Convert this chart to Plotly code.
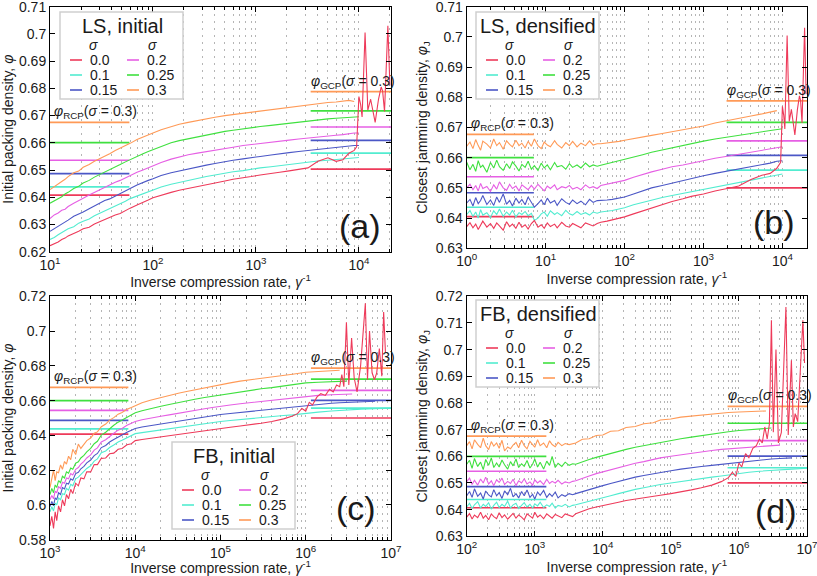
import math
import plotly.graph_objects as go

W, H = 817, 576
FONT = "Liberation Sans, Arial, sans-serif"

sigma_labels = ["0.0", "0.1", "0.15", "0.2", "0.25", "0.3"]
colors = ["#ee3a5a", "#52ecd0", "#4b57c6", "#e65fe4", "#3fe03f", "#ff9a57"]

# ---------- (a) LS, initial ----------
xa = [10, 11, 12, 13, 14, 15, 17, 19, 21, 24, 27, 30, 34, 38, 43, 48, 54, 60, 70, 80,
      90, 100, 120, 150, 180, 220, 270, 330, 400, 500, 600, 750, 900, 1100, 1400, 1700,
      2100, 2600, 3200, 4000, 5000, 6000, 7000, 8000, 9000, 10000]
a_s00 = [0.6222, 0.6228, 0.6236, 0.6245, 0.6250, 0.6258, 0.6266, 0.6275, 0.6284, 0.6290,
         0.6302, 0.6310, 0.6318, 0.6325, 0.6335, 0.6340, 0.6352, 0.6360, 0.6372, 0.6380,
         0.6390, 0.6398, 0.6408, 0.6418, 0.6426, 0.6433, 0.6440, 0.6448, 0.6454, 0.6460,
         0.6466, 0.6470, 0.6476, 0.6482, 0.6486, 0.6492, 0.6497, 0.6502, 0.6508, 0.6532,
         0.6545, 0.6532, 0.6538, 0.6562, 0.6572]
a_s10 = [0.6245, 0.6252, 0.6262, 0.6270, 0.6276, 0.6284, 0.6292, 0.6305, 0.6312, 0.6320,
         0.6332, 0.6340, 0.6350, 0.6356, 0.6368, 0.6374, 0.6385, 0.6395, 0.6405, 0.6414,
         0.6422, 0.6428, 0.6438, 0.6448, 0.6455, 0.6462, 0.6470, 0.6476, 0.6482, 0.6490,
         0.6494, 0.6498, 0.6504, 0.6508, 0.6512, 0.6516, 0.6520, 0.6524, 0.6530, 0.6533,
         0.6536, 0.6538, 0.6540, 0.6542, 0.6544, 0.6546]
a_s15 = [0.6275, 0.6284, 0.6294, 0.6300, 0.6310, 0.6316, 0.6330, 0.6338, 0.6346, 0.6358,
         0.6368, 0.6376, 0.6388, 0.6394, 0.6405, 0.6414, 0.6424, 0.6432, 0.6445, 0.6455,
         0.6462, 0.6468, 0.6480, 0.6490, 0.6497, 0.6505, 0.6512, 0.6518, 0.6524, 0.6532,
         0.6536, 0.6541, 0.6546, 0.6550, 0.6555, 0.6560, 0.6564, 0.6568, 0.6572, 0.6576,
         0.6580, 0.6582, 0.6585, 0.6588, 0.6590, 0.6590]
a_s20 = [0.6322, 0.6335, 0.6342, 0.6352, 0.6356, 0.6366, 0.6378, 0.6386, 0.6396, 0.6408,
         0.6418, 0.6425, 0.6436, 0.6444, 0.6455, 0.6462, 0.6472, 0.6480, 0.6492, 0.6500,
         0.6508, 0.6515, 0.6528, 0.6540, 0.6548, 0.6556, 0.6562, 0.6568, 0.6574, 0.6580,
         0.6584, 0.6590, 0.6594, 0.6598, 0.6602, 0.6606, 0.6610, 0.6614, 0.6618, 0.6622,
         0.6626, 0.6628, 0.6630, 0.6634, 0.6636, 0.6636]
a_s25 = [0.6378, 0.6386, 0.6396, 0.6402, 0.6412, 0.6418, 0.6432, 0.6440, 0.6452, 0.6462,
         0.6474, 0.6482, 0.6494, 0.6502, 0.6512, 0.6520, 0.6530, 0.6538, 0.6552, 0.6560,
         0.6568, 0.6575, 0.6588, 0.6600, 0.6608, 0.6615, 0.6622, 0.6630, 0.6636, 0.6642,
         0.6646, 0.6652, 0.6656, 0.6660, 0.6664, 0.6668, 0.6672, 0.6676, 0.6680, 0.6685,
         0.6688, 0.6690, 0.6692, 0.6694, 0.6695, 0.6696]
a_s30 = [0.6428, 0.6440, 0.6448, 0.6458, 0.6466, 0.6476, 0.6490, 0.6496, 0.6510, 0.6520,
         0.6532, 0.6540, 0.6552, 0.6560, 0.6572, 0.6580, 0.6590, 0.6598, 0.6612, 0.6620,
         0.6628, 0.6636, 0.6648, 0.6660, 0.6668, 0.6675, 0.6682, 0.6688, 0.6694, 0.6700,
         0.6704, 0.6708, 0.6712, 0.6716, 0.6722, 0.6726, 0.6730, 0.6735, 0.6740, 0.6745,
         0.6748, 0.6750, 0.6754, 0.6756, 0.6752]
a_rcp = [0.6408, 0.6438, 0.6487, 0.6536, 0.6601, 0.6675]
a_gcp = [0.6503, 0.6562, 0.6609, 0.6658, 0.6717, 0.6788]

# sigma = 0 tail (crystallised runs), LS panels
ls_tail_x = [9500, 9800, 10000, 10400, 10740, 11480, 12210, 13000, 14390, 15500,
             16450, 17000, 17740, 19110, 20000]
ls_tail_s00 = [0.6585, 0.6700, 0.6770, 0.6740, 0.6695, 0.7005, 0.6720, 0.6760, 0.6675, 0.6760,
               0.6805, 0.6790, 0.6715, 0.7030, 0.6810]

# ---------- (b) LS, densified ----------
xb = [1, 1.1, 1.2, 1.3, 1.4, 1.5, 1.6, 1.8, 2.0, 2.2, 2.4, 2.6, 2.9, 3.2, 3.5, 3.8, 4.2, 4.6,
      5.0, 5.5, 6.0, 6.6, 7.2, 8.0, 8.8, 9.6, 10.5, 11.5, 13, 14, 16, 18, 20, 22, 25, 28, 32,
      36, 40, 45, 50, 60, 70, 85, 100, 130, 170, 220, 300, 400, 550, 700, 1000, 1400, 2000,
      2800, 4000, 5500, 7000, 8500, 10000]
b_s00 = [0.6372, 0.6385, 0.6368, 0.6380, 0.6362, 0.6378, 0.6390, 0.6370, 0.6382, 0.6366,
         0.6384, 0.6374, 0.6360, 0.6388, 0.6372, 0.6380, 0.6366, 0.6386, 0.6370, 0.6378,
         0.6364, 0.6382, 0.6392, 0.6370, 0.6378, 0.6366, 0.6384, 0.6372, 0.6380, 0.6368,
         0.6386, 0.6374, 0.6370, 0.6382, 0.6376, 0.6368, 0.6384, 0.6378, 0.6374, 0.6382,
         0.6386, 0.6390, 0.6394, 0.6398, 0.6404, 0.6414, 0.6424, 0.6434, 0.6444, 0.6455,
         0.6464, 0.6472, 0.6480, 0.6490, 0.6498, 0.6506, 0.6528, 0.6542, 0.6548, 0.6565]
b_s10 = [0.6412, 0.6425, 0.6405, 0.6420, 0.6400, 0.6428, 0.6410, 0.6418, 0.6402, 0.6424,
         0.6412, 0.6430, 0.6406, 0.6420, 0.6410, 0.6426, 0.6404, 0.6418, 0.6412, 0.6422,
         0.6408, 0.6416, 0.6392, 0.6400, 0.6414, 0.6420, 0.6406, 0.6424, 0.6412, 0.6418,
         0.6408, 0.6426, 0.6414, 0.6410, 0.6422, 0.6412, 0.6418, 0.6410, 0.6420, 0.6416,
         0.6420, 0.6422, 0.6425, 0.6430, 0.6434, 0.6444, 0.6452, 0.6460, 0.6468, 0.6475,
         0.6482, 0.6488, 0.6496, 0.6505, 0.6512, 0.6520, 0.6528, 0.6535, 0.6540, 0.6544,
         0.6546]
b_s15 = [0.6450, 0.6462, 0.6440, 0.6468, 0.6448, 0.6458, 0.6475, 0.6445, 0.6460, 0.6442,
         0.6470, 0.6452, 0.6480, 0.6446, 0.6458, 0.6440, 0.6466, 0.6450, 0.6462, 0.6444,
         0.6470, 0.6452, 0.6436, 0.6448, 0.6460, 0.6444, 0.6466, 0.6450, 0.6458, 0.6442,
         0.6464, 0.6452, 0.6446, 0.6460, 0.6448, 0.6456, 0.6444, 0.6462, 0.6452, 0.6458,
         0.6458, 0.6460, 0.6462, 0.6466, 0.6470, 0.6480, 0.6490, 0.6500, 0.6508, 0.6516,
         0.6524, 0.6530, 0.6540, 0.6548, 0.6555, 0.6562, 0.6570, 0.6576, 0.6582, 0.6588,
         0.6590]
b_s20 = [0.6500, 0.6512, 0.6494, 0.6508, 0.6490, 0.6515, 0.6498, 0.6505, 0.6488, 0.6510,
         0.6496, 0.6520, 0.6500, 0.6492, 0.6512, 0.6498, 0.6506, 0.6490, 0.6510, 0.6500,
         0.6494, 0.6508, 0.6496, 0.6512, 0.6500, 0.6490, 0.6506, 0.6498, 0.6510, 0.6494,
         0.6504, 0.6500, 0.6508, 0.6496, 0.6502, 0.6494, 0.6510, 0.6500, 0.6504, 0.6498,
         0.6508, 0.6512, 0.6516, 0.6520, 0.6525, 0.6535, 0.6545, 0.6553, 0.6562, 0.6570,
         0.6576, 0.6582, 0.6590, 0.6598, 0.6605, 0.6612, 0.6618, 0.6624, 0.6630, 0.6634,
         0.6636]
b_s25 = [0.6585, 0.6560, 0.6578, 0.6555, 0.6590, 0.6568, 0.6575, 0.6552, 0.6584, 0.6566,
         0.6592, 0.6570, 0.6558, 0.6580, 0.6564, 0.6586, 0.6572, 0.6556, 0.6578, 0.6568,
         0.6588, 0.6562, 0.6574, 0.6558, 0.6582, 0.6566, 0.6576, 0.6560, 0.6584, 0.6570,
         0.6574, 0.6562, 0.6580, 0.6568, 0.6576, 0.6566, 0.6582, 0.6570, 0.6576, 0.6572,
         0.6575, 0.6580, 0.6584, 0.6590, 0.6595, 0.6602, 0.6610, 0.6618, 0.6626, 0.6633,
         0.6640, 0.6646, 0.6655, 0.6662, 0.6668, 0.6674, 0.6680, 0.6686, 0.6690, 0.6694,
         0.6696]
b_s30 = [0.6638, 0.6652, 0.6630, 0.6660, 0.6640, 0.6625, 0.6655, 0.6645, 0.6632, 0.6662,
         0.6640, 0.6650, 0.6628, 0.6656, 0.6644, 0.6636, 0.6658, 0.6640, 0.6648, 0.6632,
         0.6654, 0.6638, 0.6662, 0.6640, 0.6630, 0.6652, 0.6642, 0.6636, 0.6656, 0.6644,
         0.6632, 0.6650, 0.6640, 0.6654, 0.6636, 0.6648, 0.6640, 0.6656, 0.6642, 0.6646,
         0.6646, 0.6648, 0.6650, 0.6654, 0.6658, 0.6664, 0.6668, 0.6674, 0.6680, 0.6686,
         0.6692, 0.6698, 0.6705, 0.6715, 0.6722, 0.6730, 0.6738, 0.6745, 0.6752, 0.6756]
b_rcp = [0.6405, 0.6436, 0.6484, 0.6537, 0.6600, 0.6677]
b_gcp = [0.6500, 0.6559, 0.6608, 0.6656, 0.6717, 0.6788]

# ---------- (c) FB, initial ----------
xc = [1000, 1050, 1100, 1150, 1200, 1260, 1330, 1400, 1480, 1560, 1650, 1750, 1850, 2000,
      2150, 2300, 2500, 2700, 3000, 3300, 3600, 4000, 4500, 5000, 5600, 6300, 7000, 8000,
      9000, 10000, 12000, 15000, 20000, 25000, 32000, 40000, 50000, 65000, 80000, 100000,
      130000, 170000, 220000, 300000, 400000, 550000, 700000, 1000000, 1400000, 2000000,
      2500000, 3000000, 3500000, 4500000, 6500000, 10000000]
c_s00 = [0.5880, 0.5935, 0.5865, 0.5960, 0.5910, 0.5995, 0.5960, 0.6030, 0.5995, 0.6060,
         0.6035, 0.6090, 0.6065, 0.6125, 0.6110, 0.6155, 0.6150, 0.6190, 0.6190, 0.6232,
         0.6232, 0.6268, 0.6270, 0.6294, 0.6298, 0.6320, 0.6325, 0.6346, 0.6352, 0.6370,
         0.6376, 0.6383, 0.6390, 0.6398, 0.6405, 0.6412, 0.6418, 0.6426, 0.6433, 0.6440,
         0.6447, 0.6454, 0.6460, 0.6470, 0.6480, 0.6495, 0.6512]
c_s10 = [0.5960, 0.5990, 0.5965, 0.6010, 0.6000, 0.6040, 0.6030, 0.6065, 0.6060, 0.6095,
         0.6085, 0.6118, 0.6110, 0.6150, 0.6160, 0.6175, 0.6190, 0.6210, 0.6225, 0.6252,
         0.6265, 0.6300, 0.6310, 0.6330, 0.6345, 0.6362, 0.6372, 0.6388, 0.6398, 0.6410,
         0.6416, 0.6423, 0.6432, 0.6438, 0.6446, 0.6452, 0.6459, 0.6466, 0.6473, 0.6480,
         0.6486, 0.6492, 0.6497, 0.6503, 0.6508, 0.6514, 0.6518, 0.6527, 0.6534, 0.6540,
         0.6544, 0.6546, 0.6548, 0.6551, 0.6554, 0.6557]
c_s15 = [0.5990, 0.6020, 0.5995, 0.6040, 0.6030, 0.6070, 0.6060, 0.6100, 0.6092, 0.6125,
         0.6120, 0.6150, 0.6142, 0.6180, 0.6188, 0.6208, 0.6222, 0.6242, 0.6258, 0.6284,
         0.6296, 0.6330, 0.6342, 0.6362, 0.6376, 0.6392, 0.6402, 0.6418, 0.6428, 0.6440,
         0.6448, 0.6456, 0.6466, 0.6474, 0.6483, 0.6490, 0.6497, 0.6505, 0.6512, 0.6520,
         0.6526, 0.6532, 0.6538, 0.6545, 0.6551, 0.6558, 0.6563, 0.6573, 0.6580, 0.6585,
         0.6588, 0.6590, 0.6592, 0.6594, 0.6596]
c_s20 = [0.6030, 0.6055, 0.6035, 0.6080, 0.6070, 0.6105, 0.6095, 0.6130, 0.6125, 0.6155,
         0.6150, 0.6180, 0.6172, 0.6205, 0.6215, 0.6235, 0.6250, 0.6270, 0.6288, 0.6315,
         0.6328, 0.6362, 0.6375, 0.6395, 0.6412, 0.6430, 0.6440, 0.6458, 0.6468, 0.6480,
         0.6490, 0.6500, 0.6510, 0.6518, 0.6528, 0.6536, 0.6544, 0.6553, 0.6560, 0.6568,
         0.6575, 0.6582, 0.6588, 0.6596, 0.6602, 0.6609, 0.6614, 0.6625, 0.6630, 0.6634,
         0.6636, 0.6637, 0.6638]
c_s25 = [0.6060, 0.6095, 0.6070, 0.6115, 0.6100, 0.6140, 0.6128, 0.6165, 0.6155, 0.6190,
         0.6182, 0.6212, 0.6205, 0.6240, 0.6248, 0.6270, 0.6285, 0.6305, 0.6325, 0.6352,
         0.6366, 0.6402, 0.6418, 0.6440, 0.6458, 0.6476, 0.6488, 0.6505, 0.6516, 0.6530,
         0.6542, 0.6555, 0.6568, 0.6578, 0.6590, 0.6598, 0.6608, 0.6618, 0.6625, 0.6635,
         0.6643, 0.6652, 0.6660, 0.6668, 0.6675, 0.6684, 0.6690, 0.6702, 0.6706, 0.6709,
         0.6711, 0.6712]
c_s30 = [0.6100, 0.6150, 0.6200, 0.6140, 0.6190, 0.6185, 0.6230, 0.6205, 0.6250, 0.6235,
         0.6280, 0.6260, 0.6320, 0.6290, 0.6350, 0.6325, 0.6348, 0.6370, 0.6385, 0.6412,
         0.6420, 0.6450, 0.6465, 0.6488, 0.6502, 0.6522, 0.6532, 0.6550, 0.6560, 0.6572,
         0.6588, 0.6602, 0.6618, 0.6630, 0.6642, 0.6652, 0.6662, 0.6672, 0.6680, 0.6690,
         0.6702, 0.6712, 0.6720, 0.6730, 0.6738, 0.6746, 0.6752, 0.6763, 0.6768, 0.6772,
         0.6775]
c_tail_x = [800000, 900000, 1000000, 1100000, 1200000, 1350000, 1500000, 1700000, 1900000,
            2100000, 2300000, 2500000, 2650000, 2800000, 3000000, 3200000, 3450000, 3700000,
            4000000, 4400000, 5000000, 5300000, 5600000, 6000000, 6400000, 6800000, 7300000,
            7800000, 8200000, 8600000]
c_tail_s00 = [0.6525, 0.6555, 0.6540, 0.6590, 0.6575, 0.6620, 0.6640, 0.6630, 0.6665, 0.6650,
              0.6690, 0.6680, 0.6750, 0.6680, 0.7050, 0.6690, 0.6960, 0.6730, 0.6650, 0.6800,
              0.7160, 0.6720, 0.7000, 0.6760, 0.6720, 0.6760, 0.6900, 0.6740, 0.7110, 0.6880]
c_rcp = [0.6407, 0.6438, 0.6486, 0.6544, 0.6600, 0.6676]
c_gcp = [0.6500, 0.6557, 0.6601, 0.6659, 0.6724, 0.6787]

# ---------- (d) FB, densified ----------
xd = [100, 110, 120, 130, 145, 160, 175, 190, 210, 230, 250, 275, 300, 330, 360, 400, 440,
      480, 530, 580, 640, 700, 770, 850, 930, 1000, 1100, 1200, 1350, 1500, 1650, 1800, 2000,
      2200, 2500, 2800, 3200, 3600, 4000, 5000, 6300, 8000, 10000, 13000, 17000, 22000,
      30000, 40000, 55000, 70000, 100000, 140000, 200000, 280000, 400000, 550000, 700000,
      1000000, 1400000, 2000000, 2500000, 3000000, 4000000, 6000000, 10000000]
d_s00 = [0.6372, 0.6385, 0.6365, 0.6380, 0.6370, 0.6390, 0.6368, 0.6378, 0.6362, 0.6384,
         0.6374, 0.6366, 0.6388, 0.6370, 0.6380, 0.6364, 0.6376, 0.6386, 0.6368, 0.6380,
         0.6372, 0.6362, 0.6384, 0.6376, 0.6368, 0.6390, 0.6372, 0.6380, 0.6366, 0.6384,
         0.6374, 0.6368, 0.6382, 0.6376, 0.6370, 0.6384, 0.6378, 0.6374,
         0.6385, 0.6395, 0.6403, 0.6410, 0.6416, 0.6422, 0.6428, 0.6434, 0.6440, 0.6445,
         0.6450, 0.6454, 0.6460, 0.6466, 0.6474, 0.6482, 0.6492, 0.6505, 0.6520]
d_s10 = [0.6410, 0.6424, 0.6404, 0.6418, 0.6430, 0.6406, 0.6420, 0.6412, 0.6426, 0.6402,
         0.6416, 0.6428, 0.6408, 0.6420, 0.6412, 0.6432, 0.6406, 0.6418, 0.6424, 0.6404,
         0.6416, 0.6426, 0.6410, 0.6420, 0.6406, 0.6422, 0.6414, 0.6428, 0.6408, 0.6418,
         0.6412, 0.6424, 0.6406, 0.6416, 0.6412, 0.6420, 0.6410, 0.6416,
         0.6418, 0.6425, 0.6430, 0.6438, 0.6445, 0.6452, 0.6460, 0.6468, 0.6476, 0.6482,
         0.6490, 0.6494, 0.6500, 0.6506, 0.6512, 0.6518, 0.6522, 0.6526, 0.6530, 0.6535,
         0.6540, 0.6544, 0.6546, 0.6548, 0.6550, 0.6552, 0.6555]
d_s15 = [0.6452, 0.6468, 0.6446, 0.6478, 0.6450, 0.6462, 0.6440, 0.6470, 0.6455, 0.6448,
         0.6475, 0.6452, 0.6464, 0.6442, 0.6470, 0.6456, 0.6480, 0.6448, 0.6460, 0.6444,
         0.6468, 0.6452, 0.6474, 0.6446, 0.6458, 0.6440, 0.6466, 0.6454, 0.6472, 0.6446,
         0.6460, 0.6450, 0.6466, 0.6444, 0.6456, 0.6450, 0.6460, 0.6456,
         0.6460, 0.6468, 0.6475, 0.6482, 0.6490, 0.6498, 0.6506, 0.6514, 0.6522, 0.6528,
         0.6535, 0.6540, 0.6546, 0.6552, 0.6558, 0.6562, 0.6566, 0.6570, 0.6573, 0.6578,
         0.6582, 0.6586, 0.6588, 0.6590, 0.6592, 0.6594]
d_s20 = [0.6505, 0.6518, 0.6494, 0.6510, 0.6492, 0.6515, 0.6500, 0.6522, 0.6496, 0.6508,
         0.6490, 0.6512, 0.6502, 0.6518, 0.6494, 0.6506, 0.6498, 0.6514, 0.6490, 0.6508,
         0.6500, 0.6516, 0.6496, 0.6504, 0.6492, 0.6512, 0.6500, 0.6508, 0.6494, 0.6514,
         0.6498, 0.6506, 0.6500, 0.6510, 0.6496, 0.6504, 0.6500, 0.6506,
         0.6508, 0.6518, 0.6526, 0.6535, 0.6542, 0.6550, 0.6558, 0.6566, 0.6574, 0.6580,
         0.6588, 0.6594, 0.6600, 0.6606, 0.6612, 0.6618, 0.6622, 0.6626, 0.6628, 0.6632,
         0.6635, 0.6638, 0.6640, 0.6641, 0.6642]
d_s25 = [0.6570, 0.6585, 0.6555, 0.6592, 0.6562, 0.6578, 0.6550, 0.6588, 0.6566, 0.6594,
         0.6558, 0.6575, 0.6560, 0.6586, 0.6568, 0.6552, 0.6580, 0.6564, 0.6590, 0.6558,
         0.6572, 0.6562, 0.6584, 0.6556, 0.6570, 0.6590, 0.6560, 0.6578, 0.6552, 0.6582,
         0.6566, 0.6600, 0.6558, 0.6574, 0.6562, 0.6578, 0.6566, 0.6572,
         0.6570, 0.6580, 0.6588, 0.6596, 0.6603, 0.6610, 0.6618, 0.6626, 0.6634, 0.6640,
         0.6648, 0.6654, 0.6660, 0.6666, 0.6672, 0.6678, 0.6683, 0.6688, 0.6692, 0.6697,
         0.6700, 0.6703, 0.6705, 0.6706]
d_s30 = [0.6640, 0.6655, 0.6628, 0.6662, 0.6645, 0.6632, 0.6668, 0.6640, 0.6625, 0.6655,
         0.6638, 0.6650, 0.6630, 0.6660, 0.6620, 0.6635, 0.6628, 0.6642, 0.6652, 0.6632,
         0.6660, 0.6640, 0.6628, 0.6656, 0.6644, 0.6634, 0.6662, 0.6640, 0.6650, 0.6632,
         0.6658, 0.6644, 0.6636, 0.6652, 0.6640, 0.6648, 0.6644, 0.6646,
         0.6650, 0.6664, 0.6666, 0.6678, 0.6680, 0.6694, 0.6696, 0.6708, 0.6712, 0.6722,
         0.6726, 0.6736, 0.6740, 0.6747, 0.6751, 0.6756, 0.6760, 0.6762, 0.6764, 0.6766,
         0.6768, 0.6770, 0.6770]
d_tail_x = [800000, 900000, 1000000, 1100000, 1250000, 1400000, 1600000, 1800000, 2000000,
            2200000, 2400000, 2600000, 2800000, 3000000, 3200000, 3500000, 3800000, 4200000,
            4900000, 5300000, 5900000, 6300000, 6700000, 7300000, 7900000, 8700000, 9200000]
d_tail_s00 = [0.6540, 0.6525, 0.6575, 0.6560, 0.6610, 0.6595, 0.6630, 0.6640, 0.6665, 0.6650,
              0.6710, 0.6665, 0.6720, 0.7110, 0.6690, 0.7000, 0.6650, 0.6690, 0.7160, 0.6680,
              0.6960, 0.6710, 0.6760, 0.6730, 0.6900, 0.7110, 0.6950]
d_rcp = [0.6407, 0.6438, 0.6486, 0.6544, 0.6600, 0.6676]
d_gcp = [0.6500, 0.6557, 0.6601, 0.6659, 0.6724, 0.6787]

# panel boxes in page pixels: left, right, top, bottom
panels = [
    dict(ax="", box=(50, 391, 6.7, 251.7), xr=(10, 20500), yr=(0.62, 0.71), dy=0.01, dec=[1, 2, 3, 4],
         x=xa, ys=[a_s00, a_s10, a_s15, a_s20, a_s25, a_s30], tail=(ls_tail_x, ls_tail_s00),
         rcp=a_rcp, gcp=a_gcp, rcp_x=(10, 59), gcp_x=(3400, 20500),
         ytitle="Initial packing density, <i>φ</i>", label="(a)", lab_xy=(360, 226),
         legend="LS, initial", leg_xy=(60, 12)),
    dict(ax="2", box=(466.7, 807, 6.7, 248.3), xr=(1, 20500), yr=(0.63, 0.71), dy=0.01, dec=[0, 1, 2, 3, 4],
         x=xb, ys=[b_s00, b_s10, b_s15, b_s20, b_s25, b_s30], tail=(ls_tail_x, ls_tail_s00),
         rcp=b_rcp, gcp=b_gcp, rcp_x=(1, 7.1), gcp_x=(1960, 20500),
         ytitle="Closest jamming density, <i>φ</i><sub>J</sub>", label="(b)", lab_xy=(774, 222),
         legend="LS, densified", leg_xy=(476, 12)),
    dict(ax="3", box=(50, 391, 296.3, 539.7), xr=(1e3, 1e7), yr=(0.58, 0.72), dy=0.02, dec=[3, 4, 5, 6, 7],
         x=xc, ys=[c_s00, c_s10, c_s15, c_s20, c_s25, c_s30], tail=(c_tail_x, c_tail_s00),
         rcp=c_rcp, gcp=c_gcp, rcp_x=(1e3, 8300), gcp_x=(1.15e6, 1e7),
         ytitle="Initial packing density, <i>φ</i>", label="(c)", lab_xy=(356, 508),
         legend="FB, initial", leg_xy=(172, 442)),
    dict(ax="4", box=(466.7, 807, 296.3, 536.3), xr=(1e2, 1e7), yr=(0.63, 0.72), dy=0.01, dec=[2, 3, 4, 5, 6, 7],
         x=xd, ys=[d_s00, d_s10, d_s15, d_s20, d_s25, d_s30], tail=(d_tail_x, d_tail_s00),
         rcp=d_rcp, gcp=d_gcp, rcp_x=(1e2, 1480), gcp_x=(6.8e5, 1e7),
         ytitle="Closest jamming density, <i>φ</i><sub>J</sub>", label="(d)", lab_xy=(776, 511),
         legend="FB, densified", leg_xy=(476, 300)),
]


def P(x, y):
    return x / W, 1 - y / H


fig = go.Figure()
layout = dict(width=W, height=H, margin=dict(l=0, r=0, t=0, b=0, autoexpand=False), showlegend=False,
              plot_bgcolor="white", paper_bgcolor="white",
              font=dict(family=FONT, size=14, color="#1a1a1a"))

for p in panels:
    xn, yn = "x" + p["ax"], "y" + p["ax"]
    l, r, t, b = p["box"]
    lo, hi = p["xr"]
    d0 = int(math.floor(math.log10(lo)))
    d1 = int(math.ceil(math.log10(hi)))
    minor_vals = [m * 10 ** d for d in range(d0, d1) for m in range(2, 10) if lo < m * 10 ** d < hi]
    layout["xaxis" + p["ax"]] = dict(
        type="log", domain=[l / W, r / W], anchor=yn, range=[math.log10(lo), math.log10(hi)],
        automargin=False, ticklabeloverflow="allow",
        tickmode="array", tickvals=[10 ** d for d in p["dec"]],
        ticktext=[f"10<sup>{d}</sup>" for d in p["dec"]],
        ticks="inside", ticklen=5, tickcolor="black", showline=True, linecolor="black",
        linewidth=1, mirror="ticks", tickfont=dict(size=14),
        showgrid=True, gridcolor="#b5b5b5", gridwidth=1.2, griddash="2px,5px",
        minor=dict(tickmode="array", tickvals=minor_vals, ticks="inside", ticklen=3,
                   tickcolor="black", showgrid=True, gridcolor="#b5b5b5", gridwidth=1.2,
                   griddash="2px,5px"),
        title=dict(text="Inverse compression rate, <i>γ</i><sup>-1</sup>", font=dict(size=14), standoff=4),
        zeroline=False)
    ylo, yhi = p["yr"]
    layout["yaxis" + p["ax"]] = dict(
        domain=[1 - b / H, 1 - t / H], anchor=xn, range=[ylo - 1e-7, yhi + 1e-7], dtick=p["dy"], tick0=0,
        automargin=False, ticklabeloverflow="allow",
        ticks="inside", ticklen=5, tickcolor="black", showline=True, linecolor="black",
        linewidth=1, mirror="ticks", showgrid=False, zeroline=False, tickfont=dict(size=14),
        title=dict(text=p["ytitle"], font=dict(size=14), standoff=4))

    # reference levels: random close packing (left) and glass close packing (right)
    for k in range(6):
        for span, lev in ((p["rcp_x"], p["rcp"]), (p["gcp_x"], p["gcp"])):
            fig.add_trace(go.Scatter(x=list(span), y=[lev[k], lev[k]], mode="lines",
                                     line=dict(color=colors[k], width=1.7),
                                     xaxis=xn, yaxis=yn, hoverinfo="skip"))
    for k in reversed(range(6)):
        y = list(p["ys"][k])
        x = list(p["x"][:len(y)])
        if k == 0:
            x += p["tail"][0]
            y += p["tail"][1]
        fig.add_trace(go.Scatter(x=x, y=y, mode="lines", line=dict(color=colors[k], width=1.1),
                                 xaxis=xn, yaxis=yn, name=sigma_labels[k]))

    # labels for the reference levels
    fig.add_annotation(x=math.log10(p["rcp_x"][0]), y=p["rcp"][5], xref=xn, yref=yn,
                       text="<i>φ</i><sub>RCP</sub>(<i>σ</i> = 0.3)", showarrow=False,
                       xanchor="left", yanchor="bottom", xshift=2, yshift=-1, font=dict(size=14))
    fig.add_annotation(x=math.log10(p["gcp_x"][0]), y=p["gcp"][5], xref=xn, yref=yn,
                       text="<i>φ</i><sub>GCP</sub>(<i>σ</i> = 0.3)", showarrow=False,
                       xanchor="left", yanchor="bottom", xshift=-2, yshift=-1, font=dict(size=14))

    lx, ly = P(*p["lab_xy"])
    fig.add_annotation(x=lx, y=ly, xref="paper", yref="paper", text=p["label"], showarrow=False,
                       xanchor="center", yanchor="middle", font=dict(size=34))

    # legend box
    L, T = p["leg_xy"]
    x0, y1 = P(L, T)
    x1, y0 = P(L + 123, T + 87)
    fig.add_shape(type="rect", xref="paper", yref="paper", x0=x0, y0=y0, x1=x1, y1=y1,
                  line=dict(color="#cfcfcf", width=1.5), fillcolor="white", layer="above")
    tx, ty = P(L + 62, T + 14)
    fig.add_annotation(x=tx, y=ty, xref="paper", yref="paper", text=p["legend"], showarrow=False,
                       xanchor="center", yanchor="middle", font=dict(size=20))
    for cx in (33, 92):
        sx, sy = P(L + cx, T + 33)
        fig.add_annotation(x=sx, y=sy, xref="paper", yref="paper", text="<i>σ</i>", showarrow=False,
                           xanchor="center", yanchor="middle", font=dict(size=14))
    for i in range(6):
        col, row = divmod(i, 3)
        s0 = L + (10 if col == 0 else 67)
        ry = T + 48 + 15 * row
        a, yy = P(s0, ry)
        c, _ = P(s0 + 12, ry)
        fig.add_shape(type="line", xref="paper", yref="paper", x0=a, x1=c, y0=yy, y1=yy,
                      line=dict(color=colors[i], width=1.6), layer="above")
        t0, _ = P(s0 + 18, ry)
        fig.add_annotation(x=t0, y=yy, xref="paper", yref="paper", text=sigma_labels[i],
                           showarrow=False, xanchor="left", yanchor="middle", font=dict(size=14))

fig.update_layout(**layout)
fig.write_html("out.html", config={"displayModeBar": False},
               post_script="document.body.style.margin='0px';")
